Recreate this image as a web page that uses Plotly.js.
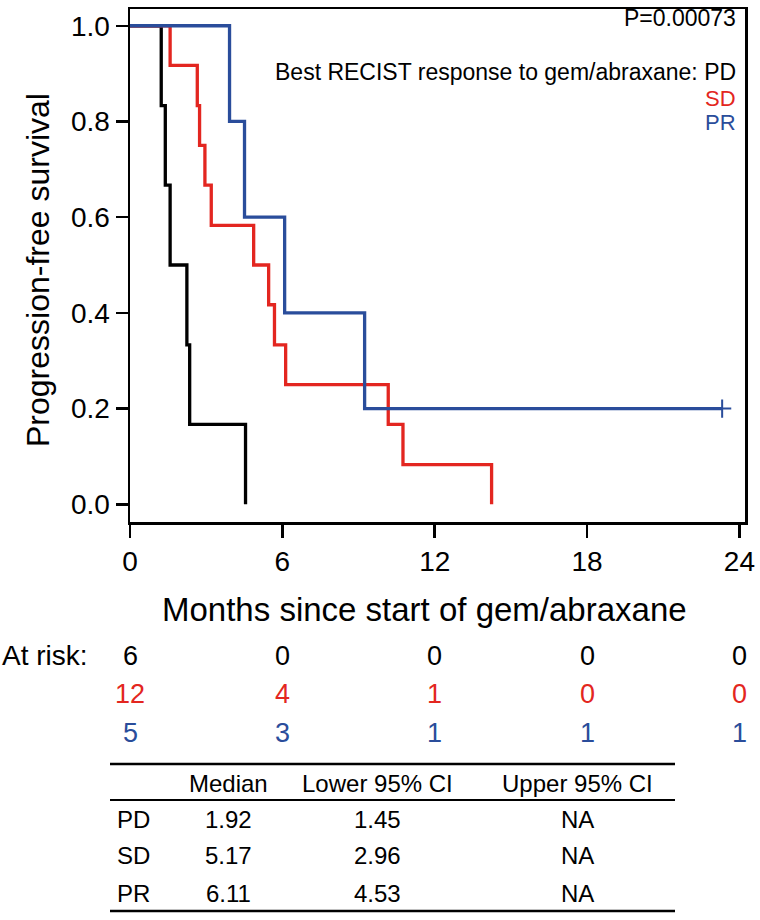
<!DOCTYPE html>
<html>
<head>
<meta charset="utf-8">
<script src="https://cdn.plot.ly/plotly-3.0.1.min.js"></script>
<style>
  html, body { margin: 0; padding: 0; background: #fff; }
  #chart { width: 760px; height: 920px; }
</style>
</head>
<body>
<div id="chart"></div>
<script>
// ---- Data ----
var groupNames = ['PD', 'SD', 'PR'];
var groupColors = ['#000000', '#e32620', '#2a4d9b'];

var pdTimes = [0, 1.23, 1.39, 1.58, 2.24, 2.35, 4.55];
var pdSurv  = [1, 0.833, 0.667, 0.5, 0.333, 0.167, 0];

var sdTimes = [0, 1.58, 2.65, 2.74, 2.95, 3.2, 4.87, 5.46, 5.69, 6.13, 10.17, 10.75, 14.24];
var sdSurv  = [1, 0.917, 0.833, 0.75, 0.667, 0.583, 0.5, 0.417, 0.333, 0.25, 0.167, 0.083, 0];

var prTimes = [0, 3.92, 4.51, 6.09, 9.24, 23.32];
var prSurv  = [1, 0.8, 0.6, 0.4, 0.2, 0.2];

var prCensorTimes = [23.32];
var prCensorSurv  = [0.2];

var xTickVals = [0, 6, 12, 18, 24];
var yTickVals = [0, 0.2, 0.4, 0.6, 0.8, 1.0];
var yTickText = ['0.0', '0.2', '0.4', '0.6', '0.8', '1.0'];

var riskTimes = [0, 6, 12, 18, 24];
var riskPD = [6, 0, 0, 0, 0];
var riskSD = [12, 4, 1, 0, 0];
var riskPR = [5, 3, 1, 1, 1];

var pValueText = 'P=0.00073';
var legendTitle = 'Best RECIST response to gem/abraxane: ';
var xTitleText = 'Months since start of gem/abraxane';
var yTitleText = 'Progression-free survival';

var tableHeaders = ['', 'Median', 'Lower 95% CI', 'Upper 95% CI'];
var tableMedian = ['1.92', '5.17', '6.11'];
var tableLower  = ['1.45', '2.96', '4.53'];
var tableUpper  = ['NA', 'NA', 'NA'];

// ---- Layout helpers (pixel -> paper) ----
var W = 760, H = 920;
var mL = 130, mR = 15, mT = 9, mB = 398;
var plotW = W - mL - mR, plotH = H - mT - mB;
function px(xp) { return (xp - mL) / plotW; }
function py(yp) { return (H - mB - yp) / plotH; }

var FONT = 'Liberation Sans, Arial, Helvetica, sans-serif';

var traces = [
  { x: pdTimes, y: pdSurv, name: groupNames[0], mode: 'lines', line: { shape: 'hv', color: groupColors[0], width: 3.3 }, cliponaxis: false },
  { x: sdTimes, y: sdSurv, name: groupNames[1], mode: 'lines', line: { shape: 'hv', color: groupColors[1], width: 3.3 }, cliponaxis: false },
  { x: prTimes, y: prSurv, name: groupNames[2], mode: 'lines', line: { shape: 'hv', color: groupColors[2], width: 3.3 }, cliponaxis: false },
  { x: prCensorTimes, y: prCensorSurv, name: groupNames[2] + ' censored', mode: 'markers',
    marker: { symbol: 'cross-thin', size: 13, line: { color: groupColors[2], width: 2 } }, cliponaxis: false }
];

var annotations = [];
// Axis titles
annotations.push({ xref: 'paper', yref: 'paper', x: px(424), y: py(609), xanchor: 'center', yanchor: 'middle',
  text: xTitleText, showarrow: false, font: { family: FONT, size: 33, color: '#000' } });
annotations.push({ xref: 'paper', yref: 'paper', x: px(38), y: py(270), xanchor: 'center', yanchor: 'middle', textangle: -90,
  text: yTitleText, showarrow: false, font: { family: FONT, size: 32, color: '#000' } });

// P value and legend text
annotations.push({ xref: 'paper', yref: 'paper', x: px(738), y: py(18), xanchor: 'right', yanchor: 'middle',
  text: pValueText, showarrow: false, font: { family: FONT, size: 23, color: '#000' } });
annotations.push({ xref: 'paper', yref: 'paper', x: px(738), y: py(72.5), xanchor: 'right', yanchor: 'middle',
  text: legendTitle + groupNames[0], showarrow: false, font: { family: FONT, size: 23, color: groupColors[0] } });
annotations.push({ xref: 'paper', yref: 'paper', x: px(738), y: py(98), xanchor: 'right', yanchor: 'middle',
  text: groupNames[1], showarrow: false, font: { family: FONT, size: 22, color: groupColors[1] } });
annotations.push({ xref: 'paper', yref: 'paper', x: px(738), y: py(122.5), xanchor: 'right', yanchor: 'middle',
  text: groupNames[2], showarrow: false, font: { family: FONT, size: 22, color: groupColors[2] } });

// At-risk table
var riskRows = [riskPD, riskSD, riskPR];
var riskRowY = [656, 694, 733];
annotations.push({ xref: 'paper', yref: 'paper', x: px(0), y: py(riskRowY[0]), xanchor: 'left', yanchor: 'middle',
  text: 'At risk:', showarrow: false, font: { family: FONT, size: 28, color: '#000' } });
for (var r = 0; r < riskRows.length; r++) {
  for (var i = 0; i < riskTimes.length; i++) {
    annotations.push({ xref: 'x', yref: 'paper', x: riskTimes[i], y: py(riskRowY[r]), xanchor: 'center', yanchor: 'middle',
      text: String(riskRows[r][i]), showarrow: false, font: { family: FONT, size: 27, color: groupColors[r] } });
  }
}

// Summary table
var colCenters = [null, 228, 377, 577];
var headerY = 783;
var rowYs = [819, 856, 893];
for (var c = 1; c < tableHeaders.length; c++) {
  annotations.push({ xref: 'paper', yref: 'paper', x: px(colCenters[c]), y: py(headerY), xanchor: 'center', yanchor: 'middle',
    text: tableHeaders[c], showarrow: false, font: { family: FONT, size: 24, color: '#000' } });
}
var tableCols = [tableMedian, tableLower, tableUpper];
for (var g = 0; g < groupNames.length; g++) {
  annotations.push({ xref: 'paper', yref: 'paper', x: px(115), y: py(rowYs[g]), xanchor: 'left', yanchor: 'middle',
    text: groupNames[g], showarrow: false, font: { family: FONT, size: 24, color: '#000' } });
  for (var k = 0; k < tableCols.length; k++) {
    annotations.push({ xref: 'paper', yref: 'paper', x: px(colCenters[k + 1]), y: py(rowYs[g]), xanchor: 'center', yanchor: 'middle',
      text: tableCols[k][g], showarrow: false, font: { family: FONT, size: 24, color: '#000' } });
  }
}

var shapes = [
  { type: 'line', xref: 'paper', yref: 'paper', x0: px(110), x1: px(675), y0: py(764), y1: py(764), line: { color: '#000', width: 2.5 } },
  { type: 'line', xref: 'paper', yref: 'paper', x0: px(110), x1: px(675), y0: py(800), y1: py(800), line: { color: '#000', width: 2 } },
  { type: 'line', xref: 'paper', yref: 'paper', x0: px(110), x1: px(675), y0: py(911), y1: py(911), line: { color: '#000', width: 2.5 } }
];

var layout = {
  width: W, height: H,
  margin: { l: mL, r: mR, t: mT, b: mB, pad: 0 },
  paper_bgcolor: '#fff', plot_bgcolor: '#fff',
  showlegend: false,
  font: { family: FONT, color: '#000' },
  xaxis: {
    range: [0, 24.22], tickvals: xTickVals, ticktext: xTickVals.map(String),
    showgrid: false, zeroline: false, showline: true, mirror: true, linecolor: '#000', linewidth: 2.5,
    ticks: 'outside', ticklen: 13, tickwidth: 2.5, tickcolor: '#000',
    tickfont: { family: FONT, size: 28, color: '#000' }
  },
  yaxis: {
    range: [-0.037, 1.035], tickvals: yTickVals, ticktext: yTickText,
    showgrid: false, zeroline: false, showline: true, mirror: true, linecolor: '#000', linewidth: 2.5,
    ticks: 'outside', ticklen: 12, tickwidth: 2.5, tickcolor: '#000',
    tickfont: { family: FONT, size: 28, color: '#000' }
  },
  annotations: annotations,
  shapes: shapes
};

Plotly.newPlot('chart', traces, layout, { staticPlot: true, displayModeBar: false });
</script>
</body>
</html>
